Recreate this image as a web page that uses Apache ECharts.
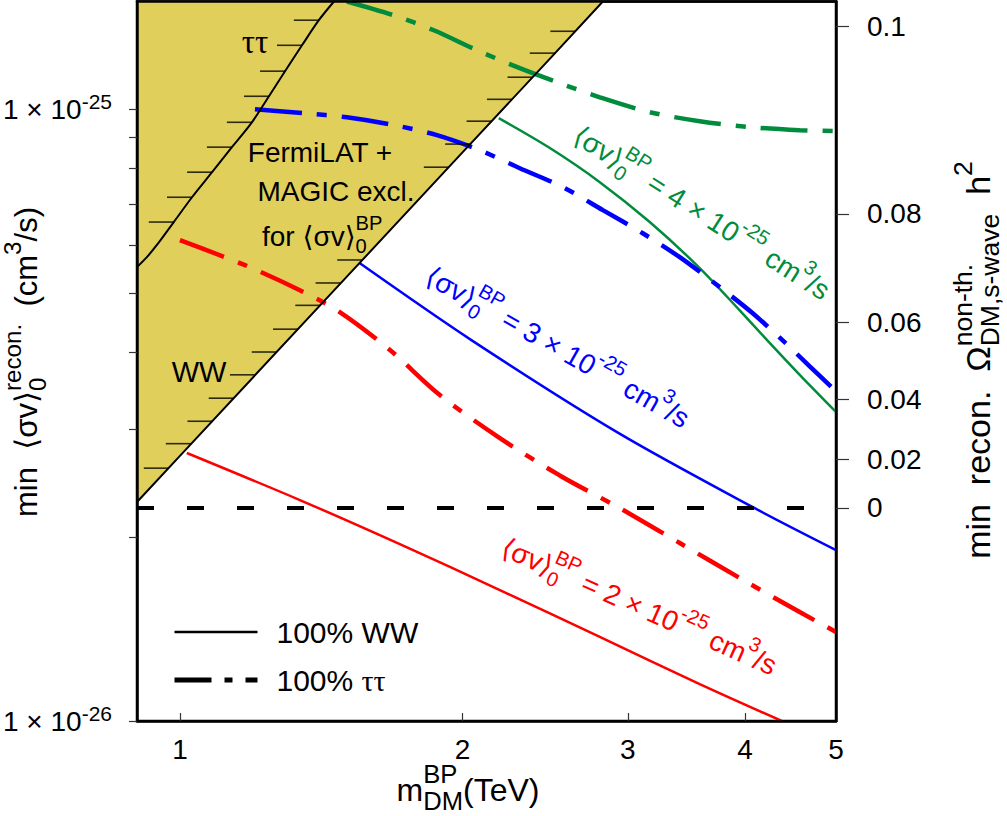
<!DOCTYPE html>
<html><head><meta charset="utf-8">
<script src="https://cdn.jsdelivr.net/npm/echarts@6/dist/echarts.min.js"></script>
<style>html,body{margin:0;padding:0;background:#fff}#c{width:1007px;height:816px}</style>
</head><body><div id="c"></div>
<script>
// ---------------- data ----------------
// <sigma v> values are given in units of 1e-26 cm^3/s
const X_MIN = 0.9, X_MAX = 5;
const Y_MIN = 1, Y_MAX = 15;
const X_TICKS = [1, 2, 3, 4, 5];
const Y_MAJOR = [1, 10];
const Y_MINOR = [1, 2, 3, 4, 5, 6, 7, 8, 9, 10];
const OMEGA_TICKS = [0, 0.02, 0.04, 0.06, 0.08, 0.1];
const OMEGA_MAX = 0.1195;       // relic-density scale of the right axis
const XSEC_OMEGA_ZERO = 2.23;   // <sigma v> (1e-26) where Omega = 0 (dashed line)

// Fermi-LAT + MAGIC exclusion boundaries
const bndWW_m  = [0.900, 1.000, 1.500, 2.000, 2.500, 2.822];
const bndWW_sv = [2.28, 2.713, 5.29, 8.50, 12.27, 15.0];
const bndTT_m  = [0.900, 0.922, 0.945, 0.985, 1.030, 1.082, 1.136, 1.193, 1.244, 1.294, 1.349, 1.406, 1.459];
const bndTT_sv = [5.52, 5.73, 6.00, 6.54, 7.18, 7.89, 8.67, 9.52, 10.50, 11.54, 12.72, 13.98, 15.0];
// hatch anchor points on the boundaries
const hatchWW_m  = [2.638, 2.508, 2.375, 2.258, 2.148, 2.038, 1.934, 1.564, 1.483, 1.411, 1.336, 1.268, 1.202, 1.141, 1.083, 1.027, 0.973];
const hatchWW_sv = [13.41, 12.35, 11.28, 10.38, 9.56, 8.77, 8.04, 5.67, 5.20, 4.78, 4.37, 4.01, 3.68, 3.37, 3.09, 2.84, 2.59];
const hatchTT_m  = [1.406, 1.349, 1.294, 1.244, 1.193, 1.136, 1.082, 1.030, 0.985];
const hatchTT_sv = [13.98, 12.72, 11.54, 10.50, 9.52, 8.67, 7.89, 7.18, 6.54];

// <sigma v>_0^BP = 4e-25
const g4TT_m  = [1.506, 1.690, 1.864, 2.072, 2.302, 2.539, 2.801, 3.166, 3.579, 4.046, 4.574, 5.0];
const g4TT_sv = [15.0, 14.24, 13.46, 12.49, 11.67, 11.03, 10.46, 9.89, 9.56, 9.35, 9.24, 9.21];
const g4WW_m  = [2.186, 2.478, 2.801, 3.166, 3.579, 3.948, 4.249, 4.574, 5.0];
const g4WW_sv = [9.67, 8.64, 7.60, 6.54, 5.50, 4.69, 4.15, 3.68, 3.20];
// <sigma v>_0^BP = 3e-25
const b3TT_m  = [1.202, 1.356, 1.506, 1.690, 1.878, 2.087, 2.302, 2.558, 2.822, 3.112, 3.408, 3.759, 4.076, 4.387, 4.688, 5.0];
const b3TT_sv = [10.0, 9.85, 9.70, 9.42, 9.07, 8.57, 8.01, 7.46, 6.84, 6.27, 5.73, 5.12, 4.64, 4.19, 3.80, 3.46];
const b3WW_m  = [1.555, 2.046, 2.934, 4.096, 5.0];
const b3WW_sv = [5.60, 4.19, 2.955, 2.228, 1.903];
// <sigma v>_0^BP = 2e-25
const r2TT_m  = [1.0, 1.173, 1.342, 1.480, 1.674, 1.892, 2.192, 2.539, 2.942, 3.408, 3.948, 4.574, 5.0];
const r2TT_sv = [6.11, 5.56, 5.06, 4.66, 4.04, 3.41, 2.90, 2.52, 2.228, 1.954, 1.713, 1.507, 1.398];
const r2WW_m  = [1.017, 1.342, 1.715, 2.192, 2.801, 3.579, 4.377];
const r2WW_sv = [2.742, 2.297, 1.946, 1.637, 1.372, 1.149, 1.0];

// ---------------- helpers ----------------
const FONT = "'Liberation Sans', Arial, Helvetica, 'DejaVu Sans', sans-serif";
const SERIF = "'Liberation Serif', 'DejaVu Serif', serif";
const GREEN = '#008c3c', BLUE = '#0000ff', RED = '#ff0000', YELLOW = '#e1cf5c';
const DASHDOT = [47, 15, 10, 15];
const zip = (a, b) => a.map((v, i) => [v, b[i]]);
const omegaToXsec = o => XSEC_OMEGA_ZERO / (1 - o / OMEGA_MAX);
const OMEGA_XSEC = OMEGA_TICKS.map(omegaToXsec);

const _ctx = document.createElement('canvas').getContext('2d');
function textWidth(t, size, fam) { _ctx.font = size + 'px ' + fam; return _ctx.measureText(t).width; }
function mathLabel(o) {
  const size = o.size, fam = o.family || FONT, color = o.color || '#000';
  const small = size * (o.small || 0.72), supDy = -(o.supDy || 0.45) * size, subDy = (o.subDy || 0.36) * size;
  const kids = []; let cx = 0;
  const txt = (t, x, y, fs) => ({ type: 'text', x: x, y: y, z: 100, silent: true,
    style: { text: t, fontSize: fs, fontFamily: fam, fill: color, align: 'left', verticalAlign: 'middle' } });
  for (const p of o.parts) {
    if (typeof p === 'string') { kids.push(txt(p, cx, 0, size)); cx += textWidth(p, size, fam); }
    else {
      let w = 0;
      if (p.sup) { kids.push(txt(p.sup, cx, supDy, small)); w = Math.max(w, textWidth(p.sup, small, fam)); }
      if (p.sub) { kids.push(txt(p.sub, cx, subDy, small)); w = Math.max(w, textWidth(p.sub, small, fam)); }
      cx += w;
    }
  }
  if (o.anchor === 'center') kids.forEach(k => { k.x -= cx / 2; });
  return { type: 'group', x: o.x, y: o.y, rotation: (o.rot || 0) * Math.PI / 180, z: 100, silent: true, children: kids };
}
function plainText(t, x, y, size, fam, align) {
  return { type: 'text', x: x, y: y, z: 100, silent: true,
    style: { text: t, fontSize: size, fontFamily: fam || FONT, fill: '#000', align: align || 'center', verticalAlign: 'middle' } };
}
const SV = '⟨σv⟩';

// ---------------- chart ----------------
const chart = echarts.init(document.getElementById('c'), null, { renderer: 'svg' });
const tickStyle = { color: '#333', width: 1.2 };
const axisLineStyle = { color: '#000', width: 2.5 };
const curveLabel = (x, y, rot, color, val) => mathLabel({ x: x, y: y, rot: rot, size: 28, color: color,
  parts: [SV, { sup: 'BP', sub: '0' }, ' = ' + val + ' × 10', { sup: '-25' }, ' cm', { sup: '3' }, '/s'] });

const option = {
  animation: false,
  backgroundColor: '#fff',
  grid: { left: 137, right: 171, top: 1.5, bottom: 95, show: true, borderColor: '#000', borderWidth: 2.5, backgroundColor: 'transparent' },
  xAxis: [{
    type: 'log', logBase: 10, min: X_MIN, max: X_MAX, position: 'bottom', z: 10,
    axisLine: { show: true, onZero: false, lineStyle: axisLineStyle },
    axisTick: { show: true, inside: true, length: 8, customValues: X_TICKS.slice(0, 4), lineStyle: tickStyle },
    axisLabel: { show: true, customValues: X_TICKS, fontSize: 28, fontFamily: FONT, color: '#000', margin: 14 },
    splitLine: { show: false }
  }, {
    type: 'log', logBase: 10, min: X_MIN, max: X_MAX, position: 'top', z: 10,
    axisLine: { show: true, onZero: false, lineStyle: axisLineStyle },
    axisTick: { show: false }, axisLabel: { show: false }, splitLine: { show: false }
  }],
  yAxis: [{
    type: 'log', logBase: 10, min: Y_MIN, max: Y_MAX, position: 'left', z: 10,
    axisLine: { show: true, onZero: false, lineStyle: axisLineStyle },
    axisTick: { show: true, inside: false, length: 8, customValues: Y_MINOR, lineStyle: tickStyle },
    axisLabel: {
      show: true, customValues: Y_MAJOR, margin: 25, fontSize: 28, fontFamily: FONT, color: '#000',
      formatter: v => '{m|1 × 10}{s|' + (Math.round(Math.log10(v)) - 26) + '}',
      rich: { m: { fontSize: 28, fontFamily: FONT, color: '#000', lineHeight: 36 },
              s: { fontSize: 21, fontFamily: FONT, color: '#000', lineHeight: 21, verticalAlign: 'top' } }
    },
    splitLine: { show: false }
  }, {
    type: 'log', logBase: 10, min: Y_MIN, max: Y_MAX, position: 'right', z: 10,
    axisLine: { show: true, onZero: false, lineStyle: axisLineStyle },
    axisTick: { show: true, inside: false, length: 13, customValues: OMEGA_XSEC, lineStyle: tickStyle },
    axisLabel: {
      show: true, customValues: OMEGA_XSEC, margin: 31, fontSize: 28, fontFamily: FONT, color: '#000', align: 'left',
      formatter: v => {
        let best = 0;
        OMEGA_XSEC.forEach((s, i) => { if (Math.abs(Math.log(s / v)) < Math.abs(Math.log(OMEGA_XSEC[best] / v))) best = i; });
        return String(OMEGA_TICKS[best]);
      }
    },
    splitLine: { show: false }
  }],
  legend: {
    data: [
      { name: '100% WW', lineStyle: { color: '#000', width: 2.5, type: 'solid' } },
      { name: '100% ττ', lineStyle: { color: '#000', width: 5, type: [37, 13, 8, 13] } }
    ],
    orient: 'vertical', left: 172, top: 617, padding: 0,
    itemWidth: 83, itemHeight: 1, itemGap: 18, selectedMode: false,
    itemStyle: { color: 'rgba(0,0,0,0)', borderWidth: 0 },
    formatter: n => n === '100% ττ' ? '100% {g|ττ}' : n,
    textStyle: { fontSize: 30, fontFamily: FONT, color: '#000', padding: [0, 0, 0, 14],
      rich: { g: { fontSize: 30, fontFamily: SERIF, color: '#000' } } }
  },
  series: [
    { type: 'custom', name: 'FermiLAT region', coordinateSystem: 'cartesian2d', clip: true, z: 0, silent: true,
      data: [[bndWW_m[0], bndWW_sv[0]]],
      renderItem: (params, api) => {
        const pts = bndWW_m.map((m, i) => api.coord([m, bndWW_sv[i]]));
        pts.push(api.coord([bndWW_m[bndWW_m.length - 1], Y_MAX]), api.coord([X_MIN, Y_MAX]));
        return { type: 'polygon', shape: { points: pts }, style: { fill: YELLOW } };
      } },
    { type: 'line', name: 'FermiLAT WW', data: zip(bndWW_m, bndWW_sv), symbol: 'none', z: 3,
      lineStyle: { color: '#000', width: 2 } },
    { type: 'line', name: 'FermiLAT tautau', data: zip(bndTT_m, bndTT_sv), symbol: 'none', smooth: 0.3, z: 3,
      lineStyle: { color: '#000', width: 2 } },
    { type: 'scatter', name: 'hatch WW', data: zip(hatchWW_m, hatchWW_sv), symbol: 'rect', symbolSize: [25, 1.6], symbolOffset: [-12.5, 0], z: 3,
      itemStyle: { color: '#000' } },
    { type: 'scatter', name: 'hatch TT', data: zip(hatchTT_m, hatchTT_sv), symbol: 'rect', symbolSize: [25, 1.6], symbolOffset: [-12.5, 0], z: 3,
      itemStyle: { color: '#000' } },
    { type: 'line', name: 'g4TT', data: zip(g4TT_m, g4TT_sv), symbol: 'none', smooth: 0.3, z: 2, lineStyle: { color: GREEN, width: 4.5, type: DASHDOT } },
    { type: 'line', name: 'g4WW', data: zip(g4WW_m, g4WW_sv), symbol: 'none', smooth: 0.3, z: 2, lineStyle: { color: GREEN, width: 2.5 } },
    { type: 'line', name: 'b3TT', data: zip(b3TT_m, b3TT_sv), symbol: 'none', smooth: 0.3, z: 2, lineStyle: { color: BLUE, width: 4.5, type: DASHDOT } },
    { type: 'line', name: 'b3WW', data: zip(b3WW_m, b3WW_sv), symbol: 'none', smooth: 0.3, z: 2, lineStyle: { color: BLUE, width: 2.5 } },
    { type: 'line', name: 'r2TT', data: zip(r2TT_m, r2TT_sv), symbol: 'none', smooth: 0.3, z: 2, lineStyle: { color: RED, width: 4.5, type: DASHDOT } },
    { type: 'line', name: 'r2WW', data: zip(r2WW_m, r2WW_sv), symbol: 'none', smooth: 0.3, z: 2, lineStyle: { color: RED, width: 2.5 } },
    { type: 'line', name: 'Omega0', data: [[X_MIN, XSEC_OMEGA_ZERO], [X_MAX, XSEC_OMEGA_ZERO]], symbol: 'none', z: 4,
      lineStyle: { color: '#000', width: 4, type: [17, 33] } },
    { type: 'line', name: '100% WW', data: [], symbol: 'none', lineStyle: { color: '#000', width: 2.5 }, itemStyle: { color: '#000' } },
    { type: 'line', name: '100% ττ', data: [], symbol: 'none', lineStyle: { color: '#000', width: 5, type: [37, 13, 8, 13] }, itemStyle: { color: '#000' } }
  ],
  graphic: [
    // axis titles
    mathLabel({ x: 26, y: 362, rot: 90, size: 31, anchor: 'center', small: 0.78,
      parts: ['min  ' + SV, { sup: 'recon.', sub: '0' }, '  (cm', { sup: '3' }, '/s)'] }),
    mathLabel({ x: 978, y: 360, rot: 90, size: 34, anchor: 'center', small: 0.78,
      parts: ['min  recon.  Ω', { sup: 'non-th.', sub: 'DM,s-wave' }, '  h', { sup: '2' }] }),
    mathLabel({ x: 468, y: 790, size: 32, anchor: 'center', small: 0.8, supDy: 0.5, subDy: 0.34,
      parts: ['m', { sup: 'BP', sub: 'DM' }, '(TeV)'] }),
    // region labels
    plainText('ττ', 255, 42, 33, SERIF),
    plainText('WW', 199, 372, 29),
    plainText('FermiLAT +', 320, 152, 28),
    plainText('MAGIC excl.', 336, 191, 28),
    mathLabel({ x: 262, y: 236, size: 28, parts: ['for ' + SV, { sup: 'BP', sub: '0' }] }),
    // curve labels
    curveLabel(576, 133, -32.5, GREEN, '4'),
    curveLabel(428, 274, -29.5, BLUE, '3'),
    curveLabel(503, 546, -24, RED, '2')
  ]
};
chart.setOption(option);
</script></body></html>
